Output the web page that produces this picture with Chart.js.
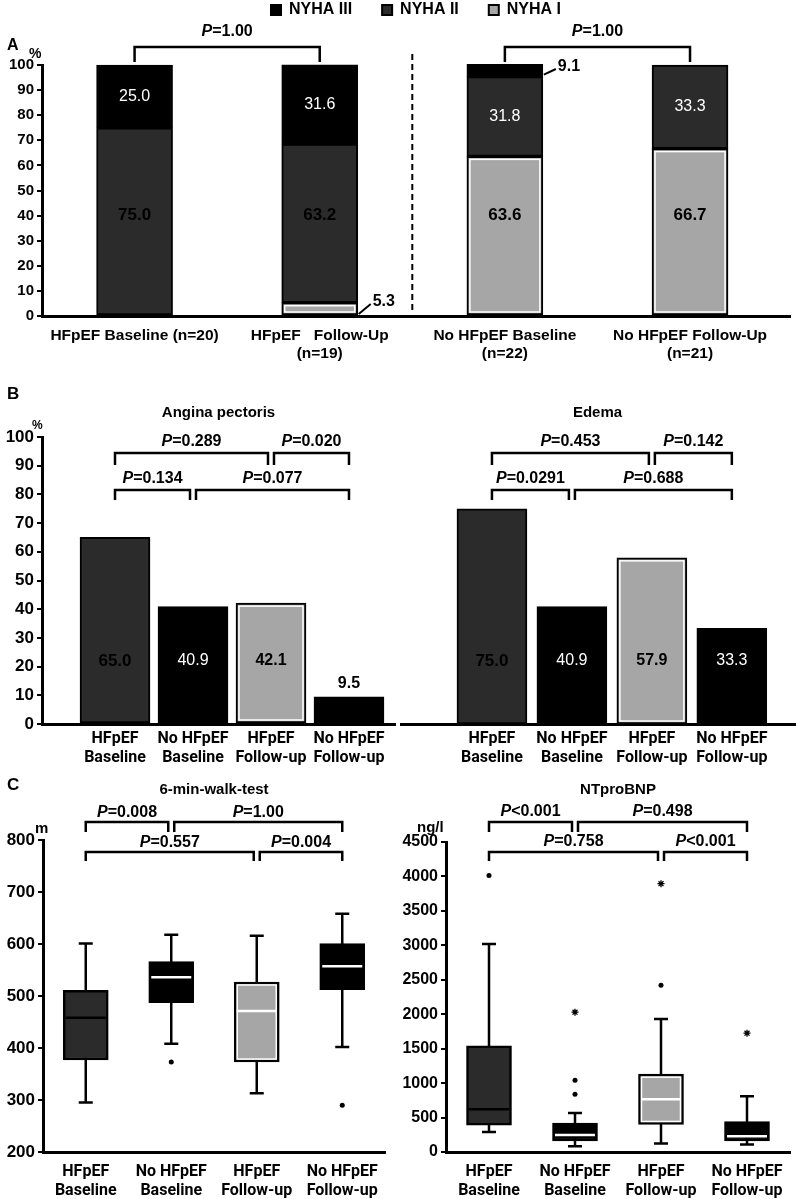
<!DOCTYPE html>
<html>
<head>
<meta charset="utf-8">
<title>NYHA class, symptoms, 6-min-walk-test and NTproBNP</title>
<script src="https://cdn.jsdelivr.net/npm/chart.js@4.4.1/dist/chart.umd.min.js"></script>
<style>
  html, body { margin: 0; padding: 0; background: #fff; }
  body { position: relative; width: 800px; height: 1199px; overflow: hidden; font-family: "Liberation Sans", Arial, sans-serif; }
  .panel { position: absolute; }
  .txt { position: absolute; font-weight: bold; color: #000; line-height: 1; white-space: nowrap; }
</style>
</head>
<body>
<div class="panel" style="left:0;top:-28px;width:800px;height:390px"><canvas id="chartA"></canvas></div>
<div class="panel" style="left:0;top:365px;width:400px;height:402px"><canvas id="chartAngina"></canvas></div>
<div class="panel" style="left:400px;top:365px;width:400px;height:402px"><canvas id="chartEdema"></canvas></div>
<div class="panel" style="left:0;top:770px;width:400px;height:429px"><canvas id="chartWalk"></canvas></div>
<div class="panel" style="left:400px;top:770px;width:400px;height:429px"><canvas id="chartBnp"></canvas></div>

<div class="txt" style="left:7px;top:37px;font-size:16px">A</div>
<div class="txt" style="left:29px;top:46px;font-size:14px">%</div>
<div class="txt" style="left:7px;top:385px;font-size:17px">B</div>
<div class="txt" style="left:32px;top:419px;font-size:12px">%</div>
<div class="txt" style="left:7px;top:776px;font-size:17px">C</div>
<div class="txt" style="left:35px;top:820px;font-size:15px">m</div>
<div class="txt" style="left:417px;top:819px;font-size:15px">ng/l</div>

<script>
const DARK = '#2b2b2b';
const LIGHT = '#a6a6a6';
const BLACK = '#000000';
const SANS = '"Liberation Sans", Arial, sans-serif';
const NARROW = '"Liberation Sans Narrow", "Liberation Sans", Arial, sans-serif';

// A: NYHA class (%)
const nyhaGroups = [['HFpEF Baseline (n=20)'], ['HFpEF   Follow-Up', '(n=19)'], ['No HFpEF Baseline', '(n=22)'], ['No HFpEF Follow-Up', '(n=21)']];
const nyhaI = [null, 5.3, 63.6, 66.7];
const nyhaII = [75.0, 63.2, 31.8, 33.3];
const nyhaIII = [25.0, 31.6, 9.1, null];
const nyhaP = [[1, 2, 0, '=1.00'], [3, 4, 0, '=1.00']];

// B: symptoms (%)
const groups = [['HFpEF', 'Baseline'], ['No HFpEF', 'Baseline'], ['HFpEF', 'Follow-up'], ['No HFpEF', 'Follow-up']];
const groupColors = [DARK, BLACK, LIGHT, BLACK];
const angina = [65.0, 40.9, 42.1, 9.5];
const edema = [75.0, 40.9, 57.9, 33.3];
const anginaP = [[1, 3, 0, '=0.289'], [3, 4, 0, '=0.020'], [1, 2, 1, '=0.134'], [2, 4, 1, '=0.077']];
const edemaP = [[1, 3, 0, '=0.453'], [3, 4, 0, '=0.142'], [1, 2, 1, '=0.0291'], [2, 4, 1, '=0.688']];

// C: box plots (whisker low, Q1, median, Q3, whisker high, outliers)
const walkLow = [295, 408, 313, 402];
const walkQ1 = [377, 487, 373, 512];
const walkMed = [458, 536, 471, 557];
const walkQ3 = [511, 566, 527, 601];
const walkHigh = [601, 618, 616, 658];
const walkDots = [[], [373], [], [290]];
const walkStars = [[], [], [], []];
const walkP = [[1, 2, 0, '=0.008'], [2, 4, 0, '=1.00'], [1, 3, 1, '=0.557'], [3, 4, 1, '=0.004']];

const bnpLow = [290, 85, 125, 110];
const bnpQ1 = [390, 160, 400, 160];
const bnpMed = [620, 245, 765, 230];
const bnpQ3 = [1540, 420, 1130, 440];
const bnpHigh = [3020, 565, 1930, 810];
const bnpDots = [[4015], [840, 1043], [2420], []];
const bnpStars = [[], [2030], [3895], [1725]];
const bnpP = [[1, 2, 0, '<0.001'], [2, 4, 0, '=0.498'], [1, 3, 1, '=0.758'], [3, 4, 1, '<0.001']];

const medianColors = ['#000', '#fff', '#fff', '#fff'];

Chart.defaults.font.family = SANS;
Chart.defaults.font.weight = 'bold';
Chart.defaults.color = '#000';
Chart.defaults.animation = false;
Chart.defaults.plugins.tooltip.enabled = false;
Chart.defaults.plugins.legend.display = false;

const pts = arr => arr.map((v, i) => ({x: i + 1, y: v}));
const outl = arr => arr.flatMap((vs, i) => vs.map(v => ({x: i + 1, y: v})));
const boxes = (q1, q3) => q1.map((q, i) => ({x: i + 1, y: [q, q3[i]]}));

function xAxis(labels, min, max, h, pad, size, family) {
    return {
        type: 'linear', min: min, max: max, offset: false,
        afterBuildTicks: s => { s.ticks = labels.map((l, i) => ({value: i + 1})); },
        afterFit: s => { s.height = h; },
        ticks: {callback: v => labels[v - 1], autoSkip: false, maxRotation: 0, padding: pad, font: {size: size, family: family, lineHeight: 1.2}},
        grid: {display: false},
        border: {width: 3, color: '#000'}
    };
}

function yAxis(min, max, step, w, size) {
    return {
        min: min, max: max,
        afterFit: s => { s.width = w; },
        ticks: {stepSize: step, padding: 3, font: {size: size}, callback: v => String(v)},
        grid: {drawOnChartArea: false, color: '#000', lineWidth: 2, tickLength: 5},
        border: {width: 3, color: '#000'}
    };
}

// "P=0.123" with an italic P
function drawP(ctx, text, cx, cy, font) {
    ctx.save();
    ctx.textBaseline = 'middle';
    ctx.textAlign = 'left';
    ctx.fillStyle = '#000';
    ctx.font = 'italic bold ' + font;
    const wp = ctx.measureText('P').width;
    ctx.font = 'bold ' + font;
    const wr = ctx.measureText(text).width;
    const x = cx - (wp + wr) / 2;
    ctx.font = 'italic bold ' + font;
    ctx.fillText('P', x, cy);
    ctx.font = 'bold ' + font;
    ctx.fillText(text, x + wp, cy);
    ctx.restore();
}

const bracketPlugin = {
    id: 'brackets',
    afterDraw(chart, args, opts) {
        const ctx = chart.ctx;
        const xs = chart.scales.x;
        const items = opts.items;
        ctx.save();
        ctx.strokeStyle = '#000';
        ctx.lineWidth = 2.5;
        items.forEach(it => {
            const [a, b, row, txt] = it;
            const joinA = items.some(o => o !== it && o[2] === row && o[1] === a);
            const joinB = items.some(o => o !== it && o[2] === row && o[0] === b);
            const x1 = xs.getPixelForValue(a) + (joinA ? 3 : 0);
            const x2 = xs.getPixelForValue(b) - (joinB ? 3 : 0);
            const y = chart.chartArea.top + opts.rows[row][0];
            const drop = opts.rows[row][1];
            ctx.beginPath();
            ctx.moveTo(x1, y + drop);
            ctx.lineTo(x1, y);
            ctx.lineTo(x2, y);
            ctx.lineTo(x2, y + drop);
            ctx.stroke();
            drawP(ctx, txt, (x1 + x2) / 2, y - opts.gap, opts.font);
        });
        ctx.restore();
    }
};

// white inner outline on the light grey bars
const insetPlugin = {
    id: 'inset',
    afterDatasetsDraw(chart) {
        const ctx = chart.ctx;
        ctx.save();
        ctx.strokeStyle = '#fff';
        ctx.lineWidth = 1.5;
        chart.data.datasets.forEach((ds, d) => {
            const meta = chart.getDatasetMeta(d);
            if (meta.type !== 'bar') return;
            meta.data.forEach((el, i) => {
                const bg = Array.isArray(ds.backgroundColor) ? ds.backgroundColor[i] : ds.backgroundColor;
                if (bg !== LIGHT) return;
                const top = Math.max(Math.min(el.y, el.base), chart.chartArea.top);
                const h = Math.max(el.y, el.base) - top;
                if (!(h >= 8)) return;
                ctx.strokeRect(el.x - el.width / 2 + 3, top + 3, el.width - 6, h - 6);
            });
        });
        ctx.restore();
    }
};

const nyhaLabelPlugin = {
    id: 'nyhaLabels',
    afterDatasetsDraw(chart, args, opts) {
        const ctx = chart.ctx;
        const ys = chart.scales.y;
        const series = [nyhaI, nyhaII, nyhaIII];
        ctx.save();
        ctx.textBaseline = 'middle';
        series.forEach((vals, d) => {
            const meta = chart.getDatasetMeta(d);
            vals.forEach((v, i) => {
                if (v == null) return;
                const el = meta.data[i];
                const start = series.slice(0, d).reduce((s, a) => s + (a[i] || 0), 0);
                if (v < 10) {
                    const right = el.x + el.width / 2;
                    const yb = ys.getPixelForValue(start) - 2;
                    const yt = Math.max(yb - 10, chart.chartArea.top + 4);
                    ctx.strokeStyle = '#000';
                    ctx.lineWidth = 2;
                    ctx.beginPath();
                    ctx.moveTo(right + 1, yb);
                    ctx.lineTo(right + 13, yt);
                    ctx.stroke();
                    ctx.fillStyle = '#000';
                    ctx.font = 'bold 16px ' + SANS;
                    ctx.textAlign = 'left';
                    ctx.fillText(v.toFixed(1), right + 15, yt - 2);
                    return;
                }
                const white = opts.white[d][i];
                ctx.fillStyle = white ? '#fff' : '#000';
                ctx.font = white ? '16px ' + SANS : 'bold 17px ' + NARROW;
                ctx.textAlign = 'center';
                const at = start < 10 ? 40 : start + v / 2;
                ctx.fillText(v.toFixed(1), el.x, ys.getPixelForValue(at));
            });
        });
        ctx.restore();
    }
};

const dividerPlugin = {
    id: 'divider',
    afterDraw(chart) {
        const ctx = chart.ctx;
        const x = chart.scales.x.getPixelForValue(2.5);
        ctx.save();
        ctx.strokeStyle = '#000';
        ctx.lineWidth = 2;
        ctx.setLineDash([6, 4]);
        ctx.beginPath();
        ctx.moveTo(x, chart.chartArea.top - 11);
        ctx.lineTo(x, chart.chartArea.bottom - 5);
        ctx.stroke();
        ctx.restore();
    }
};

const pctLabelPlugin = {
    id: 'pctLabels',
    afterDatasetsDraw(chart, args, opts) {
        const ctx = chart.ctx;
        const ys = chart.scales.y;
        const meta = chart.getDatasetMeta(0);
        ctx.save();
        ctx.textAlign = 'center';
        ctx.textBaseline = 'middle';
        opts.values.forEach((v, i) => {
            const el = meta.data[i];
            const fill = groupColors[i];
            if (v < 20) {
                ctx.fillStyle = '#000';
                ctx.font = 'bold 16px ' + SANS;
                ctx.fillText(v.toFixed(1), el.x, el.y - 13);
                return;
            }
            ctx.fillStyle = fill === BLACK ? '#fff' : '#000';
            ctx.font = fill === BLACK ? '16px ' + SANS : (fill === DARK ? 'bold 17px ' + NARROW : 'bold 16px ' + SANS);
            ctx.fillText(v.toFixed(1), el.x, ys.getPixelForValue(22));
        });
        ctx.restore();
    }
};

const boxPlugin = {
    id: 'boxes',
    beforeDatasetsDraw(chart, args, o) {
        const ctx = chart.ctx;
        const xs = chart.scales.x, ys = chart.scales.y;
        ctx.save();
        ctx.strokeStyle = '#000';
        ctx.lineWidth = 2.5;
        o.low.forEach((lo, i) => {
            const x = xs.getPixelForValue(i + 1);
            const y1 = ys.getPixelForValue(lo), y2 = ys.getPixelForValue(o.high[i]);
            ctx.beginPath();
            ctx.moveTo(x, y1); ctx.lineTo(x, y2);
            ctx.moveTo(x - 7, y1); ctx.lineTo(x + 7, y1);
            ctx.moveTo(x - 7, y2); ctx.lineTo(x + 7, y2);
            ctx.stroke();
        });
        ctx.restore();
    },
    afterDatasetsDraw(chart, args, o) {
        const ctx = chart.ctx;
        const ys = chart.scales.y;
        const meta = chart.getDatasetMeta(0);
        ctx.save();
        ctx.lineWidth = 2.5;
        o.med.forEach((m, i) => {
            const el = meta.data[i];
            const y = ys.getPixelForValue(m);
            ctx.strokeStyle = medianColors[i];
            ctx.beginPath();
            ctx.moveTo(el.x - el.width / 2 + 2.5, y);
            ctx.lineTo(el.x + el.width / 2 - 2.5, y);
            ctx.stroke();
        });
        ctx.restore();
    }
};

// ---------- A ----------
new Chart(document.getElementById('chartA'), {
    type: 'bar',
    data: {
        datasets: [
            {label: 'NYHA I', data: pts(nyhaI), backgroundColor: LIGHT},
            {label: 'NYHA II', data: pts(nyhaII), backgroundColor: DARK},
            {label: 'NYHA III', data: pts(nyhaIII), backgroundColor: BLACK}
        ]
    },
    options: {
        responsive: true,
        maintainAspectRatio: false,
        layout: {padding: {right: 10}},
        datasets: {bar: {barThickness: 76, borderColor: '#000', borderWidth: 2, borderSkipped: false, clip: 1}},
        scales: {
            x: Object.assign(xAxis(nyhaGroups, 0.5, 4.54, 46, 2, 15.5, SANS), {stacked: true}),
            y: Object.assign(yAxis(0, 100, 10, 42, 15), {stacked: true})
        },
        plugins: {
            legend: {
                display: true, reverse: true, fullSize: false,
                labels: {boxWidth: 10, boxHeight: 10, padding: 30, font: {size: 16}}
            },
            title: {display: true, text: '', weight: 500, font: {size: 10}, padding: {top: 0, bottom: 25}},
            nyhaLabels: {white: [[0, 0, 0, 0], [0, 0, 1, 1], [1, 1, 1, 1]]},
            brackets: {items: nyhaP, rows: [[-18, 15]], gap: 15, font: '16px ' + SANS}
        }
    },
    plugins: [insetPlugin, nyhaLabelPlugin, bracketPlugin, dividerPlugin]
});

// ---------- B ----------
function symptomChart(id, title, values, pvals, xmin, xmax, showY) {
    return new Chart(document.getElementById(id), {
        type: 'bar',
        data: {
            datasets: [{
                data: pts(values), backgroundColor: groupColors, borderColor: '#000',
                borderWidth: 2, borderSkipped: false, barThickness: 70
            }]
        },
        options: {
            responsive: true,
            maintainAspectRatio: false,
            layout: {padding: {right: 5}},
            scales: {
                x: xAxis(groups, xmin, xmax, 43, -3, 16, 'Roboto'),
                y: showY ? yAxis(0, 100, 10, 42, 17) : {display: false, min: 0, max: 100}
            },
            plugins: {
                title: {display: true, text: title, fullSize: false, font: {size: 15}, padding: {top: 39, bottom: 15}},
                pctLabels: {values: values},
                brackets: {items: pvals, rows: [[16, 12], [53, 10]], gap: 11, font: '16px ' + SANS}
            }
        },
        plugins: [insetPlugin, pctLabelPlugin, bracketPlugin]
    });
}
symptomChart('chartAngina', 'Angina pectoris', angina, anginaP, 0.064, 4.59, true);
symptomChart('chartEdema', 'Edema', edema, edemaP, -0.15, 4.79, false);

// ---------- C ----------
function boxChart(id, title, s, y, padRight, titleBottom, rows, gap) {
    return new Chart(document.getElementById(id), {
        type: 'bar',
        data: {
            datasets: [
                {data: boxes(s.q1, s.q3), backgroundColor: groupColors, borderColor: '#000', borderWidth: 2.5, borderSkipped: false, barThickness: 45},
                {type: 'scatter', data: outl(s.dots), pointStyle: 'circle', pointRadius: 2.5, pointBackgroundColor: '#000', pointBorderWidth: 0},
                {type: 'scatter', data: outl(s.stars), pointStyle: 'star', pointRadius: 3.5, pointBorderColor: '#000', pointBorderWidth: 1.3}
            ]
        },
        options: {
            responsive: true,
            maintainAspectRatio: false,
            layout: {padding: {right: padRight}},
            scales: {x: xAxis(groups, 0.5, 4.5, 47, 2, 16, 'Roboto'), y: y},
            plugins: {
                title: {display: true, text: title, fullSize: false, font: {size: 15}, padding: {top: 11, bottom: titleBottom}},
                boxes: {low: s.low, high: s.high, med: s.med},
                brackets: {items: s.p, rows: rows, gap: gap, font: '16px ' + SANS}
            }
        },
        plugins: [insetPlugin, boxPlugin, bracketPlugin]
    });
}
boxChart('chartWalk', '6-min-walk-test',
    {low: walkLow, q1: walkQ1, med: walkMed, q3: walkQ3, high: walkHigh, dots: walkDots, stars: walkStars, p: walkP},
    yAxis(200, 800, 100, 43, 17), 15, 41, [[-18, 10], [12, 9]], 9);
boxChart('chartBnp', 'NTproBNP',
    {low: bnpLow, q1: bnpQ1, med: bnpMed, q3: bnpQ3, high: bnpHigh, dots: bnpDots, stars: bnpStars, p: bnpP},
    yAxis(0, 4500, 500, 46, 16), 10, 43, [[-20, 10], [10, 9]], 10);
</script>
</body>
</html>
